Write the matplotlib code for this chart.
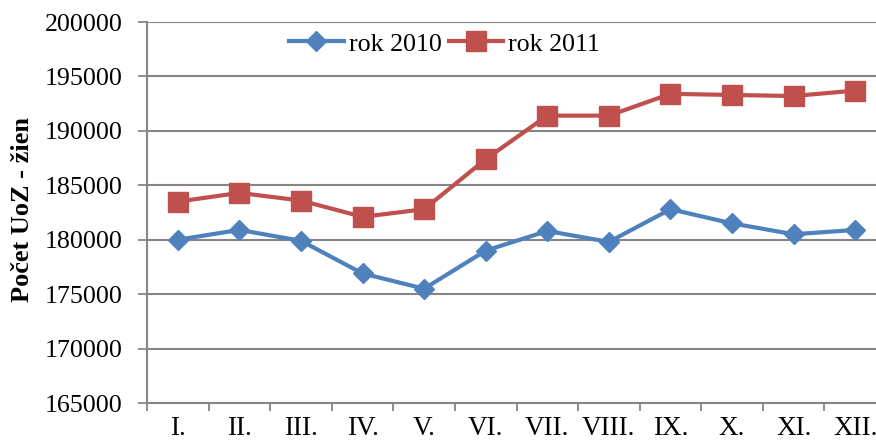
import matplotlib
matplotlib.use("Agg")
import matplotlib.pyplot as plt
from matplotlib.ticker import FixedLocator, NullFormatter

months = ["I.", "II.", "III.", "IV.", "V.", "VI.", "VII.", "VIII.", "IX.", "X.", "XI.", "XII."]
rok_2010 = [180000, 180900, 179900, 176900, 175500, 179000, 180800, 179800, 182800, 181500, 180500, 180900]
rok_2011 = [183500, 184300, 183600, 182100, 182800, 187400, 191400, 191400, 193400, 193300, 193200, 193700]
yticks = [165000, 170000, 175000, 180000, 185000, 190000, 195000, 200000]

plt.rcParams['font.family'] = ['Liberation Serif', 'DejaVu Serif']

W, H = 876, 448
fig = plt.figure(figsize=(W / 100, H / 100), dpi=100)
x0, x1, ytop, ybot = 147, 886, 22, 403
ax = fig.add_axes([x0 / W, 1 - ybot / H, (x1 - x0) / W, (ybot - ytop) / H])

blue = "#4F81BD"
red = "#C0504D"
grid = "#868686"

x = list(range(len(months)))
ax.plot(x, rok_2010, color=blue, lw=3.0, marker="D", markersize=10, label="rok 2010", zorder=3)
ax.plot(x, rok_2011, color=red, lw=3.0, marker="s", markersize=14, label="rok 2011", zorder=3)

ax.set_xlim(-0.5, len(months) - 0.5)
ax.set_ylim(yticks[0], yticks[-1])
ax.set_yticks(yticks)
ax.set_yticklabels([str(v) for v in yticks], fontsize=18.7)
ax.set_xticks(x)
ax.set_xticklabels(months, fontsize=19.5)
ax.tick_params(axis="x", which="major", length=0, pad=9)
ax.xaxis.set_minor_locator(FixedLocator([i - 0.5 for i in range(len(months) + 1)]))
ax.xaxis.set_minor_formatter(NullFormatter())
ax.tick_params(axis="x", which="minor", length=5.5, width=1.3, color=grid, direction="out")
ax.tick_params(axis="y", length=6.5, width=1.3, color=grid, direction="out", pad=11)

ax.yaxis.grid(True, color=grid, lw=1.5)
ax.set_axisbelow(True)
for s in ["top", "right"]:
    ax.spines[s].set_visible(False)
for s in ["left", "bottom"]:
    ax.spines[s].set_color(grid)
    ax.spines[s].set_linewidth(1.5)

ax.set_ylabel("Počet UoZ - žien", fontsize=19, fontweight="bold")
ax.yaxis.set_label_coords((34 - x0) / (x1 - x0), (ybot - 210) / (ybot - ytop))

leg = ax.legend(loc="center left", bbox_to_anchor=(289 / W, 1 - 44 / H),
                bbox_transform=fig.transFigure, ncol=2, frameon=False,
                fontsize=18.7, handlelength=2.1, handletextpad=0.2, columnspacing=0.27,
                borderpad=0, borderaxespad=0)

fig.savefig("out.png", dpi=100)
